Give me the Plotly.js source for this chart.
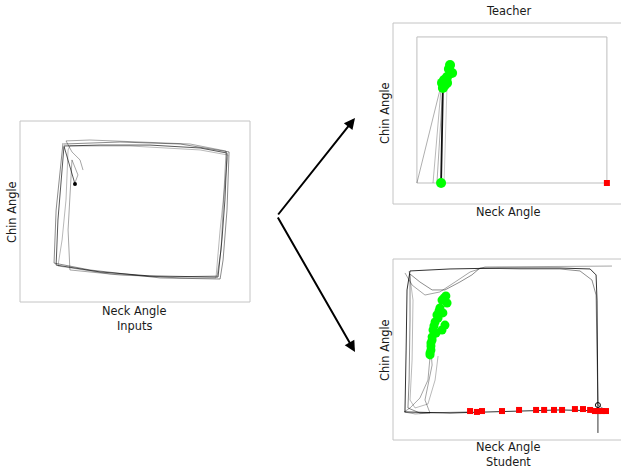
<!DOCTYPE html>
<html>
<head>
<meta charset="utf-8">
<script src="https://cdn.plot.ly/plotly-3.0.1.min.js"></script>
<style>html,body{margin:0;padding:0;background:#fff;}#chart{width:621px;height:473px;}</style>
</head>
<body>
<div id="chart"></div>
<script>
// ---------- Inputs panel: neck angle (x) / chin angle (y), normalised 0..1 ----------
const inputsAX = [0.239,0.209,0.191,0.348,0.565,0.783,0.900,0.891,0.878,0.861,0.565,0.348,0.157,0.165,0.178,0.191];
const inputsAY = [0.652,0.785,0.862,0.867,0.867,0.851,0.823,0.564,0.343,0.138,0.144,0.166,0.204,0.453,0.674,0.856];
const inputsBX = [0.191,0.435,0.696,0.909,0.900,0.883,0.870,0.609,0.304,0.148,0.157,0.174,0.187];
const inputsBY = [0.873,0.884,0.873,0.829,0.508,0.232,0.127,0.133,0.177,0.215,0.508,0.729,0.878];
const inputsCX = [0.274,0.261,0.226,0.200,0.304,0.522,0.739,0.896,0.887,0.874,0.857,0.652,0.435,0.217,0.209,0.217,0.226,0.252,0.235];
const inputsCY = [0.729,0.785,0.829,0.890,0.895,0.884,0.873,0.834,0.619,0.287,0.144,0.138,0.149,0.177,0.398,0.619,0.785,0.702,0.646];
const inputsDX = [0.165,0.391,0.696,0.852,0.870,0.891,0.904,0.783,0.478,0.217,0.209,0.200,0.183,0.165];
const inputsDY = [0.199,0.155,0.133,0.133,0.398,0.674,0.812,0.840,0.862,0.862,0.840,0.564,0.343,0.199];
const inputsStartX = [0.239];
const inputsStartY = [0.652];

// ---------- Teacher panel ----------
const teacherBoxX = [0.104,0.930,0.930,0.104,0.104];
const teacherBoxY = [0.116,0.116,0.923,0.923,0.116];
const teacherMainX = [0.209,0.213,0.217,0.226];
const teacherMainY = [0.116,0.464,0.641,0.685];
const teacherG1X = [0.104,0.204]; const teacherG1Y = [0.116,0.630];
const teacherG2X = [0.174,0.209]; const teacherG2Y = [0.116,0.641];
const teacherG3X = [0.191,0.217]; const teacherG3Y = [0.116,0.652];
const teacherG4X = [0.222,0.235]; const teacherG4Y = [0.116,0.660];
const teacherGreenX = [0.248,0.243,0.257,0.235,0.222,0.213,0.226,0.217,0.235,0.209];
const teacherGreenY = [0.768,0.746,0.724,0.702,0.685,0.669,0.657,0.641,0.669,0.116];
const teacherRedX = [0.930];
const teacherRedY = [0.116];

// ---------- Student panel ----------
const studentS1X = [0.891,0.891,0.887,0.883,0.857,0.726,0.465,0.248,0.074,0.061,0.057,0.052,0.052,0.248,0.465,0.726,0.930];
const studentS1Y = [0.039,0.160,0.773,0.912,0.945,0.950,0.950,0.945,0.934,0.829,0.497,0.221,0.155,0.149,0.155,0.166,0.160];
const studentS2X = [0.930,0.891,0.887,0.883,0.865,0.813,0.726,0.552,0.378,0.343,0.291,0.226,0.170,0.117,0.074,0.074,0.070,0.065,0.117,0.335];
const studentS2Y = [0.160,0.193,0.497,0.801,0.884,0.934,0.945,0.945,0.950,0.912,0.873,0.829,0.829,0.873,0.917,0.663,0.331,0.177,0.149,0.155];
const studentS3X = [0.161,0.152,0.117,0.074,0.048,0.096,0.161,0.139,0.170,0.165];
const studentS3Y = [0.459,0.331,0.232,0.177,0.155,0.144,0.149,0.221,0.414,0.497];
const studentS4X = [0.052,0.083,0.139,0.204,0.270,0.335,0.400,0.952];
const studentS4Y = [0.923,0.856,0.801,0.818,0.873,0.928,0.956,0.961];
const studentS5X = [0.070,0.087,0.083,0.074,0.096,0.152,0.183,0.196];
const studentS5Y = [0.934,0.773,0.442,0.221,0.177,0.199,0.331,0.464];
const studentGreenX = [0.230,0.213,0.235,0.204,0.217,0.191,0.183,0.226,0.213,0.174,0.170,0.165,0.165,0.161,0.196,0.178,0.187,0.170,0.165,0.161,0.222,0.200];
const studentGreenY = [0.796,0.773,0.757,0.729,0.702,0.691,0.652,0.635,0.608,0.608,0.569,0.536,0.497,0.470,0.674,0.630,0.591,0.552,0.519,0.481,0.785,0.713];
const studentRedX = [0.335,0.365,0.387,0.474,0.548,0.622,0.657,0.700,0.735,0.791,0.826,0.857,0.878,0.891,0.909,0.926];
const studentRedY = [0.160,0.155,0.160,0.160,0.166,0.166,0.166,0.166,0.166,0.171,0.171,0.166,0.160,0.160,0.160,0.160];
const studentEndX = [0.891];
const studentEndY = [0.193];

// ---------- Text ----------
const xTitle = 'Neck Angle';
const yTitle = 'Chin Angle';
const panelNames = ['Inputs', 'Teacher', 'Student'];

const W = 621, H = 473;
const px = v => v / W;
const py = v => 1 - v / H;

function line(x, y, ax, color, width) {
  return {x: x, y: y, xaxis: 'x' + ax, yaxis: 'y' + ax, type: 'scatter', mode: 'lines',
          line: {color: color, width: width}, hoverinfo: 'skip', showlegend: false};
}
function pts(x, y, ax, color, symbol, size, open) {
  return {x: x, y: y, xaxis: 'x' + ax, yaxis: 'y' + ax, type: 'scatter', mode: 'markers',
          marker: {color: open ? 'rgba(0,0,0,0)' : color, symbol: symbol, size: size,
                   line: {color: color, width: open ? 1 : 0}},
          hoverinfo: 'skip', showlegend: false};
}

const traces = [
  line(inputsDX, inputsDY, '', 'rgba(0,0,0,0.28)', 1),
  line(inputsCX, inputsCY, '', 'rgba(0,0,0,0.35)', 1),
  line(inputsBX, inputsBY, '', 'rgba(0,0,0,0.45)', 1),
  line(inputsAX, inputsAY, '', 'rgba(0,0,0,0.65)', 1),
  pts(inputsStartX, inputsStartY, '', '#000', 'circle', 4, false),

  line(teacherBoxX, teacherBoxY, '2', '#bdbdbd', 1),
  line(teacherG1X, teacherG1Y, '2', 'rgba(0,0,0,0.4)', 0.8),
  line(teacherG2X, teacherG2Y, '2', 'rgba(0,0,0,0.35)', 0.8),
  line(teacherG3X, teacherG3Y, '2', 'rgba(0,0,0,0.4)', 0.8),
  line(teacherG4X, teacherG4Y, '2', 'rgba(0,0,0,0.25)', 0.8),
  line(teacherMainX, teacherMainY, '2', '#111', 1.8),
  pts(teacherGreenX, teacherGreenY, '2', '#00ff00', 'circle', 10, false),
  pts(teacherRedX, teacherRedY, '2', '#ff0000', 'square', 6, false),

  line(studentS5X, studentS5Y, '3', 'rgba(0,0,0,0.35)', 0.8),
  line(studentS4X, studentS4Y, '3', 'rgba(0,0,0,0.45)', 0.8),
  line(studentS3X, studentS3Y, '3', 'rgba(0,0,0,0.45)', 0.8),
  line(studentS2X, studentS2Y, '3', 'rgba(0,0,0,0.5)', 0.9),
  line(studentS1X, studentS1Y, '3', 'rgba(0,0,0,0.8)', 1),
  pts(studentGreenX, studentGreenY, '3', '#00ff00', 'circle', 9, false),
  pts(studentRedX, studentRedY, '3', '#ff0000', 'square', 6, false),
  pts(studentEndX, studentEndY, '3', '#000', 'circle', 5, true)
];

const hidden = {visible: false, fixedrange: true};
const layout = {
  width: W, height: H,
  margin: {l: 0, r: 0, t: 0, b: 0, pad: 0},
  paper_bgcolor: '#fff', plot_bgcolor: 'rgba(0,0,0,0)',
  showlegend: false,
  font: {family: 'DejaVu Sans', size: 11.4, color: '#1a1a1a'},
  xaxis:  Object.assign({}, hidden, {domain: [px(20), px(250)], range: [0, 1], anchor: 'y'}),
  yaxis:  Object.assign({}, hidden, {domain: [py(302), py(121)], range: [0, 1], anchor: 'x'}),
  xaxis2: Object.assign({}, hidden, {domain: [px(393), 1], range: [0, (W - 393) / 230], anchor: 'y2'}),
  yaxis2: Object.assign({}, hidden, {domain: [py(204), py(23)], range: [0, 1], anchor: 'x2'}),
  xaxis3: Object.assign({}, hidden, {domain: [px(393), 1], range: [0, (W - 393) / 230], anchor: 'y3'}),
  yaxis3: Object.assign({}, hidden, {domain: [py(440), py(259)], range: [0, 1], anchor: 'x3'}),
  shapes: [
    {type: 'rect', xref: 'paper', yref: 'paper', x0: px(20), x1: px(250), y0: py(302), y1: py(121), line: {color: '#c4c4c4', width: 1}, layer: 'below'},
    {type: 'rect', xref: 'paper', yref: 'paper', x0: px(393), x1: px(623.5), y0: py(204), y1: py(23), line: {color: '#c4c4c4', width: 1}, layer: 'below'},
    {type: 'rect', xref: 'paper', yref: 'paper', x0: px(393), x1: px(623.5), y0: py(440), y1: py(259), line: {color: '#c4c4c4', width: 1}, layer: 'below'}
  ],
  annotations: [
    {text: yTitle, textangle: -90, x: px(12), y: py(212), xref: 'paper', yref: 'paper', showarrow: false, xanchor: 'center', yanchor: 'middle'},
    {text: xTitle, x: px(134), y: py(311), xref: 'paper', yref: 'paper', showarrow: false, xanchor: 'center', yanchor: 'middle'},
    {text: panelNames[0], x: px(134), y: py(326), xref: 'paper', yref: 'paper', showarrow: false, xanchor: 'center', yanchor: 'middle'},
    {text: panelNames[1], x: px(508), y: py(11), xref: 'paper', yref: 'paper', showarrow: false, xanchor: 'center', yanchor: 'middle'},
    {text: yTitle, textangle: -90, x: px(385), y: py(113), xref: 'paper', yref: 'paper', showarrow: false, xanchor: 'center', yanchor: 'middle'},
    {text: xTitle, x: px(508), y: py(212), xref: 'paper', yref: 'paper', showarrow: false, xanchor: 'center', yanchor: 'middle'},
    {text: yTitle, textangle: -90, x: px(385), y: py(350), xref: 'paper', yref: 'paper', showarrow: false, xanchor: 'center', yanchor: 'middle'},
    {text: xTitle, x: px(508), y: py(447), xref: 'paper', yref: 'paper', showarrow: false, xanchor: 'center', yanchor: 'middle'},
    {text: panelNames[2], x: px(508), y: py(462), xref: 'paper', yref: 'paper', showarrow: false, xanchor: 'center', yanchor: 'middle'},
    {text: '', x: px(355), y: py(118), xref: 'paper', yref: 'paper', showarrow: true, ax: 277 - 355, ay: 216 - 118,
     arrowhead: 2, arrowsize: 1.1, arrowwidth: 2, arrowcolor: '#000', standoff: 0, startstandoff: 0},
    {text: '', x: px(355), y: py(352), xref: 'paper', yref: 'paper', showarrow: true, ax: 277 - 355, ay: 216 - 352,
     arrowhead: 2, arrowsize: 1.1, arrowwidth: 2, arrowcolor: '#000', standoff: 0, startstandoff: 0}
  ]
};

Plotly.newPlot('chart', traces, layout, {staticPlot: true, displayModeBar: false});
</script>
</body>
</html>
